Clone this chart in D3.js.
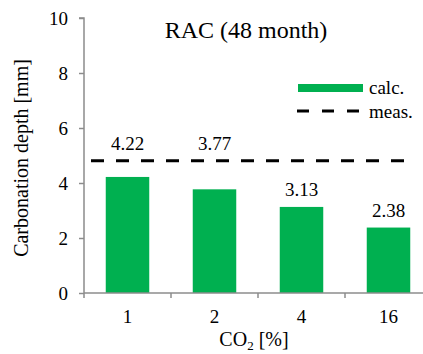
<!DOCTYPE html>
<html>
<head>
<meta charset="utf-8">
<script src="https://cdn.jsdelivr.net/npm/d3@7"></script>
<style>
  body { margin: 0; background: #fff; }
  text { font-family: "Liberation Serif", "Times New Roman", serif; fill: #000; }
</style>
</head>
<body>
<svg width="423" height="354"></svg>
<script>
// data
var categories = ["1", "2", "4", "16"];
var calcValues = [4.22, 3.77, 3.13, 2.38];
var measValue = 4.81;
var yTicks = [0, 2, 4, 6, 8, 10];

var svg = d3.select("svg");

var plotLeft = 84, plotRight = 432, plotTop = 18, plotBottom = 293;

var x = d3.scaleBand()
  .domain(categories)
  .range([plotLeft, plotRight])
  .paddingInner(0.5)
  .paddingOuter(0.25);

var y = d3.scaleLinear().domain([0, 10]).range([plotBottom, plotTop]);

var axisColor = "#8c8c8c";
var fontSize = 19;

// bars
svg.append("g")
  .selectAll("rect")
  .data(calcValues)
  .enter().append("rect")
    .attr("x", function(d, i) { return x(categories[i]); })
    .attr("y", function(d) { return y(d); })
    .attr("width", x.bandwidth())
    .attr("height", function(d) { return y(0) - y(d); })
    .attr("fill", "#00b050");

// measured line
svg.append("line")
  .attr("x1", plotLeft + 7)
  .attr("x2", x(categories[categories.length - 1]) + x.bandwidth())
  .attr("y1", y(measValue))
  .attr("y2", y(measValue))
  .attr("stroke", "#000")
  .attr("stroke-width", 3)
  .attr("stroke-dasharray", "13,12");

// value labels (moved above the dashed line when they would hit it)
function labelY(d) {
  var yl = y(d) - 11;
  if (yl - 15 < y(measValue) + 3) yl = y(measValue) - 11;
  return yl;
}
svg.append("g")
  .selectAll("text")
  .data(calcValues)
  .enter().append("text")
    .attr("x", function(d, i) { return x(categories[i]) + x.bandwidth() / 2; })
    .attr("y", labelY)
    .attr("text-anchor", "middle")
    .attr("font-size", fontSize)
    .text(function(d) { return d.toFixed(2); });

// y axis
var yAxis = svg.append("g")
  .attr("transform", "translate(" + plotLeft + ",0)")
  .call(d3.axisLeft(y).tickValues(yTicks).tickSize(5).tickPadding(11).tickFormat(d3.format("d")));
yAxis.select(".domain").attr("stroke", axisColor).attr("stroke-width", 1.5)
  .attr("d", "M-5," + plotTop + "H0V" + (plotBottom + 5));
yAxis.selectAll(".tick line").attr("stroke", axisColor).attr("stroke-width", 1.5);
yAxis.selectAll(".tick text")
  .attr("font-size", fontSize)
  .attr("font-family", "Liberation Serif")
  .attr("fill", "#000");

// x axis
var step = x.step();
var xAxis = svg.append("g").attr("transform", "translate(0," + plotBottom + ")");
xAxis.append("line")
  .attr("x1", plotLeft).attr("x2", plotRight)
  .attr("stroke", axisColor).attr("stroke-width", 1.5);
xAxis.selectAll(".xt")
  .data(categories.slice(1))
  .enter().append("line")
    .attr("x1", function(d) { return x(d) - step * 0.25; })
    .attr("x2", function(d) { return x(d) - step * 0.25; })
    .attr("y1", 0).attr("y2", 5)
    .attr("stroke", axisColor).attr("stroke-width", 1.5);
xAxis.selectAll(".xl")
  .data(categories)
  .enter().append("text")
    .attr("x", function(d) { return x(d) + x.bandwidth() / 2; })
    .attr("y", 30)
    .attr("text-anchor", "middle")
    .attr("font-size", fontSize)
    .text(function(d) { return d; });

// axis titles
var xt = svg.append("text")
  .attr("x", 254)
  .attr("y", 346)
  .attr("text-anchor", "middle")
  .attr("font-size", 20);
xt.append("tspan").text("CO");
xt.append("tspan").attr("font-size", 13).attr("dy", 4).text("2");
xt.append("tspan").attr("dy", -4).text(" [%]");

svg.append("text")
  .attr("transform", "translate(28,158) rotate(-90)")
  .attr("text-anchor", "middle")
  .attr("font-size", 20)
  .text("Carbonation depth [mm]");

// title
svg.append("text")
  .attr("x", 246)
  .attr("y", 38)
  .attr("text-anchor", "middle")
  .attr("font-size", 24)
  .text("RAC (48 month)");

// legend
var lg = svg.append("g");
lg.append("rect")
  .attr("x", 298).attr("y", 84)
  .attr("width", 65).attr("height", 8)
  .attr("fill", "#00b050");
lg.append("text").attr("x", 369).attr("y", 94).attr("font-size", fontSize).text("calc.");
lg.append("line")
  .attr("x1", 297).attr("x2", 362)
  .attr("y1", 111).attr("y2", 111)
  .attr("stroke", "#000").attr("stroke-width", 3)
  .attr("stroke-dasharray", "12,13");
lg.append("text").attr("x", 369).attr("y", 118).attr("font-size", fontSize).text("meas.");
</script>
</body>
</html>
